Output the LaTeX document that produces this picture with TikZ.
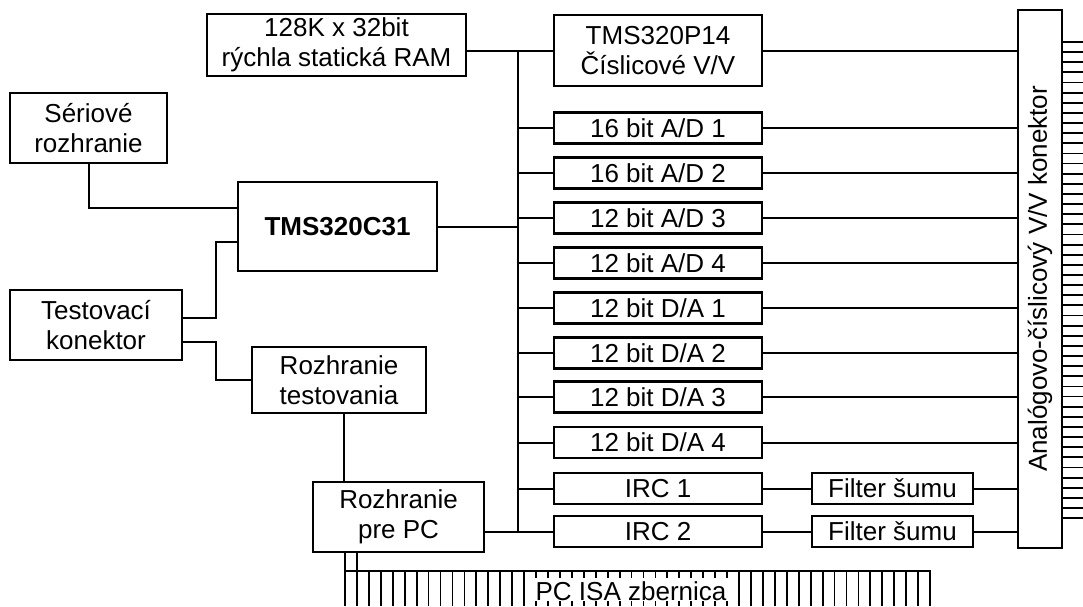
\documentclass[tikz,border=0pt]{standalone}
\usepackage{fontspec}
\setmainfont{Liberation Sans}
\newcommand\dfont{\fontsize{26}{30}\selectfont}
\begin{document}
\begin{tikzpicture}[x=1pt,y=-1pt,
  box/.style={draw, line width=2.7pt, inner sep=0pt, align=center, font=\dfont},
  wire/.style={line width=2pt},
  comb/.style={line width=1.8pt}]
\useasboundingbox (0,0) rectangle (1083,606);
% boxes
\node[box, minimum width=259pt, minimum height=62pt] (ram) at (336.5,45) {128K x 32bit\\rýchla statická RAM};
\node[box, minimum width=208pt, minimum height=71pt] (p14) at (658,50.5) {TMS320P14\\Číslicové V/V};
\node[box, minimum width=208pt, minimum height=31pt] (ad1) at (658,128) {16 bit A/D 1};
\node[box, minimum width=208pt, minimum height=31pt] (ad2) at (658,173) {16 bit A/D 2};
\node[box, minimum width=208pt, minimum height=31pt] (ad3) at (658,218) {12 bit A/D 3};
\node[box, minimum width=208pt, minimum height=31pt] (ad4) at (658,263) {12 bit A/D 4};
\node[box, minimum width=208pt, minimum height=31pt] (da1) at (658,308) {12 bit D/A 1};
\node[box, minimum width=208pt, minimum height=31pt] (da2) at (658,353) {12 bit D/A 2};
\node[box, minimum width=208pt, minimum height=31pt] (da3) at (658,397) {12 bit D/A 3};
\node[box, minimum width=208pt, minimum height=31pt] (da4) at (658,442.5) {12 bit D/A 4};
\node[box, minimum width=208pt, minimum height=31pt] (irc1) at (658,488.5) {IRC 1};
\node[box, minimum width=208pt, minimum height=31pt] (irc2) at (658,531.5) {IRC 2};
\node[box, minimum width=161pt, minimum height=31pt] (f1) at (892.5,488.5) {Filter šumu};
\node[box, minimum width=161pt, minimum height=31pt] (f2) at (892.5,531.5) {Filter šumu};
\node[box, minimum width=157pt, minimum height=70pt] (ser) at (88.5,128) {Sériové\\rozhranie};
\node[box, minimum width=199pt, minimum height=89pt, font=\dfont\bfseries] (c31) at (337.5,226.5) {TMS320C31};
\node[box, minimum width=172pt, minimum height=70pt] (test) at (96,325) {Testovací\\konektor};
\node[box, minimum width=174pt, minimum height=66pt] (rt) at (339,380) {Rozhranie\\testovania};
\node[box, minimum width=171pt, minimum height=70pt] (rpc) at (398.5,517) {Rozhranie\\pre PC};
\node[box, minimum width=44pt, minimum height=538pt] (conn) at (1040,279) {};
\node[font=\dfont, rotate=90] (conntxt) at (conn.center) {Analógovo-číslicový V/V konektor};
% internal bus
\coordinate (busT) at (518,50);
\coordinate (busB) at (518,531.5);
\draw[wire] (busT) -- (busB);
\draw[wire] (ram.east |- p14.west) -- (p14.west);
\foreach \n in {ad1,ad2,ad3,ad4,da1,da2,da3,da4,irc1,irc2}
  \draw[wire] (busT |- \n.west) -- (\n.west);
\draw[wire] (c31.east) -- (busT |- c31.east);
\draw[wire] (rpc.east |- irc2.west) -- (busT |- irc2.west);
% to connector
\foreach \n in {p14,ad1,ad2,ad3,ad4,da1,da2,da3,da4}
  \draw[wire] (\n.east) -- (conn.west |- \n.east);
\draw[wire] (irc1.east) -- (f1.west);
\draw[wire] (irc2.east) -- (f2.west);
\draw[wire] (f1.east) -- (conn.west |- f1.east);
\draw[wire] (f2.east) -- (conn.west |- f2.east);
% left side
\coordinate (j1) at (216,0);
\draw[wire] (ser.south) |- ([yshift=18.5pt]c31.west);
\draw[wire] ([yshift=7pt]test.east) -| ([yshift=-15.5pt]c31.west -| j1) -- ([yshift=-15.5pt]c31.west);
\draw[wire] ([yshift=-17pt]test.east) -| (j1 |- rt.west) -- (rt.west);
\draw[wire] ([xshift=5pt]rt.south) -- ([xshift=5pt]rt.south |- rpc.north);
% connector comb
\foreach \i in {0,...,47}
  \draw[comb] (conn.east |- 0,{42+\i*10.13}) -- (1083,{42+\i*10.13});
% PC ISA bus
\coordinate (busL) at (345,571);
\coordinate (busR) at (930,571);
\draw[wire] (busL |- rpc.south) -- (345,606);
\draw[wire] (356.5,552) -- (356.5,571);
\draw[wire] (busL) -- (busR) -- (930,606);
\foreach \i in {1,...,48}
  \draw[comb] ({345+\i*11.94},571) -- ({345+\i*11.94},606);
\fill[white] (527,578) rectangle (735,601);
\node[font=\dfont, inner sep=0pt] (isa) at (631,591) {PC ISA zbernica};
\end{tikzpicture}
\end{document}
